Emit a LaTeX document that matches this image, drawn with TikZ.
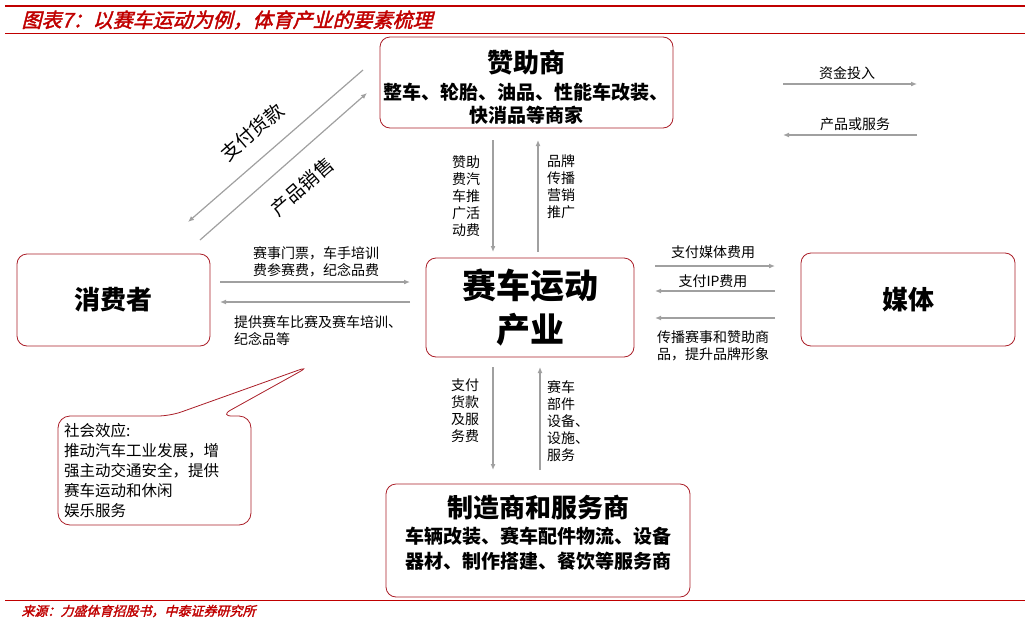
\documentclass[tikz,border=0pt]{standalone}
\usepackage{fontspec}
\setmainfont{Noto Sans CJK SC}
\newfontfamily\titlefont[FakeSlant=0.25,FakeBold=2]{Noto Sans CJK SC}
\usetikzlibrary{arrows.meta,calc}
\definecolor{darkred}{RGB}{192,0,0}
\definecolor{boxred}{RGB}{170,30,40}
\definecolor{arrowgray}{RGB}{160,160,160}
\tikzset{
  box/.style={draw=boxred, line width=0.8pt, rounded corners=10pt},
  flow/.style={draw=arrowgray, line width=1.2pt, -{Latex[length=6pt,width=5pt]}},
  small/.style={font=\fontsize{14}{17}\selectfont, inner sep=0pt},
  big/.style={font=\fontsize{26}{30}\selectfont\bfseries, inner sep=0pt}
}
\begin{document}
\begin{tikzpicture}[x=1pt,y=-1pt]
    \useasboundingbox (0,0) rectangle (1031,624);

    % Title and rules
    \draw[darkred, line width=1.5pt] (5,6) -- (1025,6);
    \draw[darkred, line width=0.8pt] (5,33) -- (1025,33);
    \node[anchor=west, text=darkred, font=\fontsize{20}{22}\titlefont] (title) at (18,20) {图表7：以赛车运动为例，体育产业的要素梳理};
    \draw[darkred, line width=0.8pt] (5,600) -- (1025,600);
    \node[anchor=west, text=darkred, font=\fontsize{13}{15}\titlefont] (source) at (18,611) {来源：力盛体育招股书，中泰证券研究所};

    % Boxes
    \draw[box] (380,37) rectangle (673,128);
    \node[big] (sponsor) at (526,63) {赞助商};
    \node[small, font=\fontsize{19}{23}\selectfont\bfseries, align=center] (sponsorsub) at (526,104) {整车、轮胎、油品、性能车改装、\\快消品等商家};

    \draw[box] (17,254) rectangle (210,346);
    \node[big] (consumer) at (113,300) {消费者};

    \draw[box] (426,258) rectangle (634,357);
    \node[big, font=\fontsize{34}{44}\selectfont\bfseries, align=center] (industry) at (530,308) {赛车运动\\产业};

    \draw[box] (801,253) rectangle (1015,346);
    \node[big] (media) at (908,300) {媒体};

    \draw[box] (386,484) rectangle (690,597);
    \node[big] (maker) at (538,508) {制造商和服务商};
    \node[small, font=\fontsize{19}{25}\selectfont\bfseries, align=center] (makersub) at (538,549) {车辆改装、赛车配件物流、设备\\器材、制作搭建、餐饮等服务商};

    % Callout
    \draw[box, rounded corners=12pt] (58,416) -- (170,416) -- (310,366) -- (220,416) -- (251,416) -- (251,525) -- (58,525) -- cycle;
    \node[small, anchor=north west, align=left, font=\fontsize{15.5}{20}\selectfont] (effect) at (64,423) {社会效应:\\推动汽车工业发展，增\\强主动交通安全，提供\\赛车运动和休闲\\娱乐服务};

    % Diagonal arrows
    \draw[flow] (363,70) -- (188,222);
    \draw[flow] (200,240) -- (367,93);
    \node[small, font=\fontsize{19}{22}\selectfont, rotate=41] (pay) at (252,132) {支付货款};
    \node[small, font=\fontsize{19}{22}\selectfont, rotate=41] (sale) at (302,187) {产品销售};

    % Legend
    \draw[flow] (783,84) -- (917,84);
    \node[small] (fund) at (847,73) {资金投入};
    \draw[flow] (917,135) -- (783,135);
    \node[small] (goods) at (855,124) {产品或服务};

    % Sponsor and industry
    \draw[flow] (493,140) -- (493,252);
    \node[small, align=center] (fee) at (466,196) {赞助\\费汽\\车推\\广活\\动费};
    \draw[flow] (538,252) -- (538,140);
    \node[small, align=left, anchor=west] (brand) at (547,187) {品牌\\传播\\营销\\推广};

    % Consumer and industry
    \draw[flow] (220,282) -- (410,282);
    \node[small] (ticket) at (316,262) [align=center] {赛事门票，车手培训\\费参赛费，纪念品费};
    \draw[flow] (410,302) -- (220,302);
    \node[small, align=left, anchor=north west] (race) at (234,315) {提供赛车比赛及赛车培训、\\纪念品等};

    % Industry and media
    \draw[flow] (655,266) -- (775,266);
    \node[small] (mediafee) at (713,252) {支付媒体费用};
    \draw[flow] (775,291) -- (655,291);
    \node[small] (ipfee) at (713,281) {支付IP费用};
    \draw[flow] (775,318) -- (655,318);
    \node[small, align=left, anchor=north west] (spread) at (657,330) {传播赛事和赞助商\\品，提升品牌形象};

    % Industry and maker
    \draw[flow] (493,367) -- (493,470);
    \node[small, align=center] (service) at (465,411) {支付\\货款\\及服\\务费};
    \draw[flow] (540,470) -- (540,367);
    \node[small, align=left, anchor=west] (parts) at (547,421) {赛车\\部件\\设备、\\设施、\\服务};
\end{tikzpicture}
\end{document}
